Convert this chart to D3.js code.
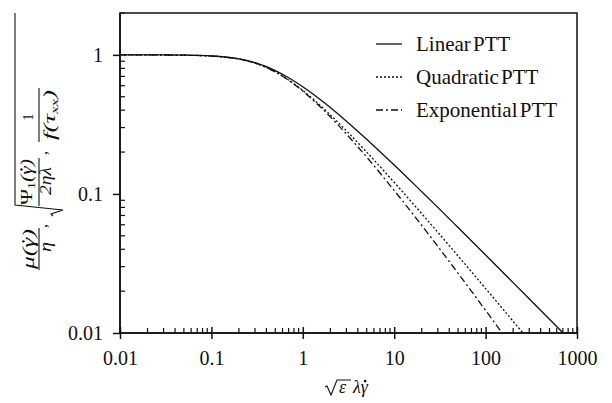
<!DOCTYPE html>
<html>
<head>
<meta charset="utf-8">
<script src="https://cdn.jsdelivr.net/npm/d3@7"></script>
<style>
  html, body { margin: 0; padding: 0; background: #fff; }
  svg { display: block; }
  text { font-family: "Liberation Serif", "Times New Roman", serif; fill: #111; }
</style>
</head>
<body>
<svg id="chart" width="612" height="403"></svg>
<script>
// ---- data ----
const seriesNames = ["Linear PTT", "Quadratic PTT", "Exponential PTT"];
const linX  = [0.01, 0.03, 0.05, 0.1, 0.2, 0.3, 0.5, 0.7, 1, 1.5, 2, 3, 5, 7, 10, 20, 30, 50, 100, 200, 300, 500, 700, 1000];
const linY  = [0.9998, 0.9982, 0.995, 0.981, 0.9347, 0.878, 0.771, 0.685, 0.590, 0.4854, 0.4175, 0.3333, 0.2469, 0.2012, 0.1613, 0.1038, 0.080, 0.05734, 0.03639, 0.02303, 0.01761, 0.01255, 0.01003, 0.00792];
const quadX = [0.01, 0.03, 0.05, 0.102, 0.2166, 0.3858, 0.6619, 0.975, 1.341, 1.768, 3.139, 5, 10.41, 18.38, 29.25, 60.8, 136.4, 208.2, 251.1, 299];
const quadY = [0.9998, 0.9982, 0.995, 0.980, 0.9232, 0.8197, 0.6757, 0.5618, 0.4717, 0.400, 0.2759, 0.200, 0.1176, 0.0769, 0.05405, 0.03077, 0.01639, 0.01176, 0.01015, 0.00885];
const expX  = [0.01, 0.03, 0.05, 0.102, 0.2167, 0.3862, 0.6672, 0.998, 1.4076, 1.922, 3.881, 7.389, 13.62, 24.6, 43.81, 77.2, 135.0, 150.9, 168.5];
const expY  = [0.9998, 0.9982, 0.995, 0.9802, 0.9231, 0.8187, 0.6703, 0.5488, 0.4493, 0.3679, 0.2231, 0.1353, 0.0821, 0.04979, 0.0302, 0.01832, 0.01111, 0.01005, 0.0091];
const xTickValues = [0.01, 0.1, 1, 10, 100, 1000];
const xTickLabels = ["0.01", "0.1", "1", "10", "100", "1000"];
const yTickValues = [0.01, 0.1, 1];
const yTickLabels = ["0.01", "0.1", "1"];

// ---- layout ----
const svg = d3.select("#chart");
const L = 120, R = 577, T = 13, B = 333;
const x = d3.scaleLog().domain([0.01, 1000]).range([L, R]);
const y = d3.scaleLog().domain([0.01, 2]).range([B, T]);
const INK = "#111";

svg.append("defs").append("clipPath").attr("id", "clip")
  .append("rect").attr("x", L).attr("y", T).attr("width", R - L).attr("height", B - T);

// frame
svg.append("rect").attr("x", L).attr("y", T).attr("width", R - L).attr("height", B - T)
  .attr("fill", "none").attr("stroke", INK).attr("stroke-width", 1.5);

// x minor ticks (inward)
const xMinor = [];
for (let e = -2; e < 3; e++) for (let k = 2; k <= 9; k++) xMinor.push(k * Math.pow(10, e));
svg.append("g").selectAll("line").data(xMinor).join("line")
  .attr("x1", d => x(d)).attr("x2", d => x(d)).attr("y1", B).attr("y2", B - 5)
  .attr("stroke", INK).attr("stroke-width", 1.2);
// y minor ticks (inward)
const yMinor = [];
for (let e = -2; e < 0; e++) for (let k = 2; k <= 9; k++) yMinor.push(k * Math.pow(10, e));
yMinor.push(2);
svg.append("g").selectAll("line").data(yMinor).join("line")
  .attr("x1", L).attr("x2", L + 5).attr("y1", d => y(d)).attr("y2", d => y(d))
  .attr("stroke", INK).attr("stroke-width", 1.2);

// x axis (major ticks crossing)
const xAxis = d3.axisBottom(x).tickValues(xTickValues)
  .tickFormat((d, i) => xTickLabels[i]).tickSize(6).tickPadding(12);
const gx = svg.append("g").attr("transform", `translate(0,${B})`).call(xAxis);
gx.select(".domain").remove();
gx.selectAll(".tick line").attr("y1", -6).attr("stroke", INK).attr("stroke-width", 1.5);
gx.selectAll(".tick text").attr("font-size", 20).attr("font-family", "Liberation Serif, serif").attr("fill", INK);

// y axis
const yAxis = d3.axisLeft(y).tickValues(yTickValues)
  .tickFormat((d, i) => yTickLabels[i]).tickSize(7).tickPadding(10);
const gy = svg.append("g").attr("transform", `translate(${L},0)`).call(yAxis);
gy.select(".domain").remove();
gy.selectAll(".tick line").attr("stroke", INK).attr("stroke-width", 1.5);
gy.selectAll(".tick text").attr("font-size", 20).attr("font-family", "Liberation Serif, serif").attr("fill", INK);

// axis lines over ticks
svg.append("line").attr("x1", L).attr("x2", R).attr("y1", B).attr("y2", B).attr("stroke", INK).attr("stroke-width", 1.6);
svg.append("line").attr("x1", L).attr("x2", L).attr("y1", T).attr("y2", B).attr("stroke", INK).attr("stroke-width", 1.6);

// ---- curves ----
const series = [
  { xs: linX, ys: linY, dash: null },
  { xs: quadX, ys: quadY, dash: "2,2" },
  { xs: expX, ys: expY, dash: "7,3,2,3" }
];
const line = d3.line().x(d => x(d[0])).y(d => y(d[1])).curve(d3.curveMonotoneX);
const plot = svg.append("g").attr("clip-path", "url(#clip)");
series.forEach(s => {
  plot.append("path")
    .datum(s.xs.map((v, i) => [v, s.ys[i]]))
    .attr("d", line).attr("fill", "none").attr("stroke", INK)
    .attr("stroke-width", 1.3)
    .attr("stroke-dasharray", s.dash);
});

// ---- legend ----
const legY = [44, 77, 110];
const leg = svg.append("g");
series.forEach((s, i) => {
  leg.append("line").attr("x1", 376).attr("x2", 402).attr("y1", legY[i]).attr("y2", legY[i])
    .attr("stroke", INK).attr("stroke-width", 1.3).attr("stroke-dasharray", s.dash);
  leg.append("text").attr("x", 416).attr("y", legY[i] + 7).attr("font-size", 21)
    .attr("word-spacing", -3).text(seriesNames[i]);
});

// helper: add overdot above a character of a text element
function overdot(parent, textSel, idx, baseline, fs) {
  const node = textSel.node();
  const ext = node.getExtentOfChar(idx);
  parent.append("circle")
    .attr("cx", ext.x + ext.width * 0.62).attr("cy", baseline - 0.66 * fs)
    .attr("r", 0.075 * fs).attr("fill", INK);
}

// ---- x axis title: sqrt(eps) lambda gamma-dot ----
const xt = svg.append("g");
xt.append("path").attr("d", "M325,387 L327,386 L331,395 L337,380 L351,380")
  .attr("fill", "none").attr("stroke", INK).attr("stroke-width", 1.1);
xt.append("text").attr("x", 339).attr("y", 393).attr("font-size", 18).attr("font-style", "italic").text("ε");
const lg = xt.append("text").attr("x", 353).attr("y", 393).attr("font-size", 18).attr("font-style", "italic").text("λγ");
overdot(xt, lg, 1, 393, 18);

// ---- y axis title (rotated; u = -y, v = x) ----
const yt = svg.append("g").attr("transform", "rotate(-90)");
function it(u, v, s, fs, len, italic = true) {
  const t = yt.append("text").attr("x", u).attr("y", v).attr("font-size", fs)
    .attr("font-style", italic ? "italic" : "normal").attr("text-anchor", "middle").text(s);
  if (len) t.attr("textLength", len).attr("lengthAdjust", "spacingAndGlyphs");
  return t;
}
function bar(u1, u2, v) {
  yt.append("line").attr("x1", u1).attr("x2", u2).attr("y1", v).attr("y2", v)
    .attr("stroke", INK).attr("stroke-width", 1.1);
}
// mu(gamma-dot) / eta
const mu = it(-249, 34, "μ(γ)", 16, 40);
overdot(yt, mu, 2, 34, 16);
bar(-270, -228, 39);
it(-247, 51, "η", 16, 10);
yt.append("text").attr("x", -228).attr("y", 47).attr("font-size", 16).text(",");
// sqrt( Psi1(gamma-dot) / 2 eta lambda )
yt.append("path").attr("d", "M-216,53 L-214,51 L-210,63 L-205,15 L-13,15")
  .attr("fill", "none").attr("stroke", INK).attr("stroke-width", 1.1);
const psi = yt.append("text").attr("x", -182).attr("y", 32).attr("font-size", 16)
  .attr("font-style", "italic").attr("text-anchor", "middle")
  .attr("textLength", 46).attr("lengthAdjust", "spacingAndGlyphs");
psi.append("tspan").attr("font-style", "normal").text("Ψ");
psi.append("tspan").attr("font-size", 10).attr("dy", 3).attr("font-style", "normal").text("1");
psi.append("tspan").attr("dy", -3).text("(γ)");
overdot(yt, psi, 3, 32, 16);
bar(-206, -158, 39);
it(-181, 51, "2ηλ", 16, 28);
yt.append("text").attr("x", -155).attr("y", 47).attr("font-size", 16).text(",");
// 1 / f(tau_xx)
it(-117, 33, "1", 15, null, false);
bar(-142, -88, 39);
const ft = yt.append("text").attr("x", -115).attr("y", 55).attr("font-size", 16)
  .attr("font-style", "italic").attr("text-anchor", "middle")
  .attr("textLength", 50).attr("lengthAdjust", "spacingAndGlyphs");
ft.append("tspan").text("f(τ");
ft.append("tspan").attr("font-size", 10).attr("dy", 3).text("xx");
ft.append("tspan").attr("dy", -3).text(")");
</script>
</body>
</html>
